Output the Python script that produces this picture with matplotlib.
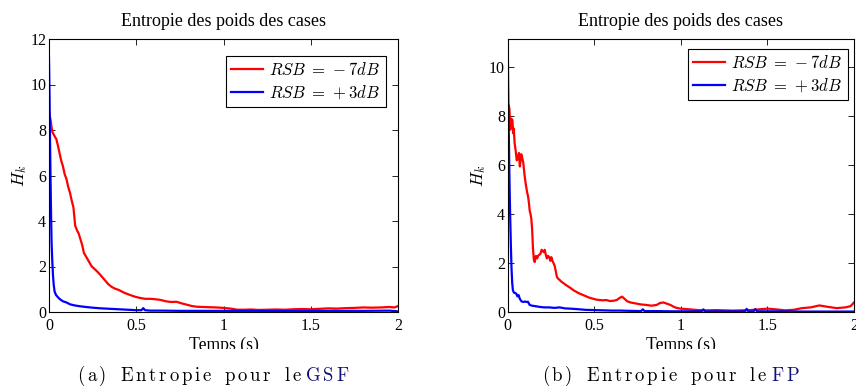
import matplotlib
matplotlib.use('Agg')
import matplotlib.pyplot as plt
from matplotlib.patches import Rectangle
from matplotlib.text import Annotation

# ---- data (time in s, entropy H_k) ----
gsf_t_red = [0, 0.005, 0.01, 0.015, 0.02, 0.027, 0.034, 0.042, 0.05, 0.06,
             0.07, 0.08, 0.09, 0.1, 0.11, 0.12, 0.13, 0.14, 0.15, 0.16,
             0.17, 0.18, 0.19, 0.2, 0.215, 0.23, 0.245, 0.26, 0.28, 0.3,
             0.32, 0.34, 0.36, 0.38, 0.4, 0.43, 0.46, 0.49, 0.52, 0.55,
             0.58, 0.61, 0.64, 0.67, 0.7, 0.73, 0.76, 0.79, 0.82, 0.85,
             0.88, 0.92, 0.96, 1.0, 1.04, 1.08, 1.12, 1.16, 1.2, 1.25,
             1.3, 1.35, 1.4, 1.45, 1.5, 1.55, 1.6, 1.65, 1.7, 1.75,
             1.8, 1.85, 1.9, 1.95, 1.98, 2.0]
gsf_h_red = [8.8, 8.6, 8.4, 8.1, 7.9, 7.8, 7.7, 7.6, 7.35, 7.0,
             6.65, 6.4, 6.05, 5.85, 5.5, 5.25, 4.9, 4.6, 3.8, 3.6,
             3.45, 3.2, 2.95, 2.6, 2.4, 2.2, 2.0, 1.9, 1.75, 1.58,
             1.4, 1.22, 1.1, 1.02, 0.97, 0.85, 0.76, 0.68, 0.62, 0.58,
             0.58, 0.56, 0.53, 0.47, 0.44, 0.45, 0.38, 0.32, 0.26, 0.23,
             0.22, 0.21, 0.2, 0.18, 0.15, 0.1, 0.1, 0.11, 0.09, 0.1,
             0.11, 0.1, 0.12, 0.13, 0.12, 0.14, 0.16, 0.15, 0.17, 0.18,
             0.2, 0.19, 0.2, 0.22, 0.2, 0.26]

gsf_t_blue = [0, 0.003, 0.006, 0.009, 0.012, 0.015, 0.019, 0.023, 0.027, 0.032,
              0.04, 0.05, 0.06, 0.07, 0.08, 0.1, 0.12, 0.14, 0.17, 0.2,
              0.25, 0.3, 0.35, 0.4, 0.45, 0.5, 0.53, 0.54, 0.55, 0.58,
              0.65, 0.75, 0.85, 1.0, 1.2, 1.4, 1.6, 1.8, 1.95, 2.0]
gsf_h_blue = [11.15, 9.5, 7.5, 5.8, 4.2, 3.0, 2.2, 1.6, 1.2, 0.9,
              0.75, 0.66, 0.58, 0.52, 0.47, 0.42, 0.34, 0.3, 0.26, 0.23,
              0.19, 0.16, 0.14, 0.12, 0.1, 0.08, 0.08, 0.17, 0.08, 0.06,
              0.06, 0.05, 0.05, 0.05, 0.05, 0.04, 0.05, 0.05, 0.06, 0.03]

fp_t_red = [0, 0.005, 0.01, 0.015, 0.02, 0.027, 0.032, 0.035, 0.04, 0.046,
            0.052, 0.059, 0.065, 0.07, 0.073, 0.078, 0.084, 0.09, 0.098, 0.105,
            0.112, 0.117, 0.122, 0.127, 0.132, 0.136, 0.141, 0.146, 0.151, 0.156,
            0.163, 0.17, 0.175, 0.183, 0.19, 0.196, 0.203, 0.209, 0.214, 0.22,
            0.226, 0.233, 0.24, 0.246, 0.252, 0.258, 0.265, 0.271, 0.277, 0.284,
            0.29, 0.3, 0.31, 0.32, 0.335, 0.35, 0.365, 0.38, 0.395, 0.41,
            0.43, 0.45, 0.47, 0.49, 0.51, 0.53, 0.55, 0.57, 0.59, 0.61,
            0.63, 0.645, 0.66, 0.675, 0.69, 0.71, 0.74, 0.77, 0.8, 0.83,
            0.86, 0.88, 0.9, 0.92, 0.94, 0.96, 0.98, 1.0, 1.05, 1.1,
            1.15, 1.2, 1.25, 1.3, 1.35, 1.4, 1.45, 1.5, 1.55, 1.6,
            1.65, 1.7, 1.75, 1.8, 1.85, 1.9, 1.95, 1.98, 2.0]
fp_h_red = [8.2, 8.45, 8.3, 7.45, 7.9, 7.85, 7.3, 7.5, 6.9, 6.6,
            6.2, 6.3, 6.5, 5.95, 6.1, 6.45, 6.3, 6.1, 5.55, 5.2,
            4.9, 4.75, 4.5, 4.15, 4.0, 3.85, 3.4, 2.6, 2.15, 2.05,
            2.3, 2.2, 2.3, 2.35, 2.4, 2.55, 2.5, 2.45, 2.55, 2.35,
            2.2, 2.3, 2.25, 2.1, 2.25, 2.1, 2.0, 1.9, 1.7, 1.45,
            1.38, 1.32, 1.25, 1.2, 1.12, 1.05, 0.98, 0.9, 0.84, 0.78,
            0.72, 0.66, 0.6, 0.56, 0.52, 0.5, 0.49, 0.5, 0.46, 0.47,
            0.5, 0.58, 0.64, 0.55, 0.45, 0.4, 0.36, 0.32, 0.3, 0.27,
            0.3, 0.38, 0.4, 0.35, 0.3, 0.22, 0.17, 0.15, 0.12, 0.09,
            0.08, 0.09, 0.08, 0.07, 0.08, 0.09, 0.12, 0.15, 0.12, 0.08,
            0.1, 0.17, 0.2, 0.28, 0.22, 0.17, 0.2, 0.25, 0.4]

fp_t_blue = [0, 0.003, 0.006, 0.01, 0.014, 0.018, 0.022, 0.026, 0.03, 0.036,
             0.046, 0.05, 0.056, 0.063, 0.07, 0.079, 0.09, 0.1, 0.11, 0.117,
             0.127, 0.14, 0.16, 0.185, 0.21, 0.24, 0.27, 0.3, 0.33, 0.36,
             0.4, 0.45, 0.5, 0.55, 0.6, 0.65, 0.7, 0.77, 0.78, 0.79,
             0.85, 0.95, 1.05, 1.12, 1.13, 1.14, 1.25, 1.37, 1.38, 1.39,
             1.42, 1.43, 1.44, 1.55, 1.7, 1.85, 2.0]
fp_h_blue = [11.15, 9.0, 7.5, 5.5, 4.0, 2.8, 1.8, 1.2, 0.9, 0.8,
             0.78, 0.75, 0.65, 0.7, 0.55, 0.45, 0.42, 0.44, 0.42, 0.43,
             0.3, 0.27, 0.25, 0.22, 0.2, 0.2, 0.18, 0.2, 0.16, 0.15,
             0.13, 0.1, 0.09, 0.08, 0.07, 0.07, 0.06, 0.05, 0.12, 0.05,
             0.05, 0.04, 0.04, 0.04, 0.12, 0.04, 0.04, 0.04, 0.14, 0.04,
             0.04, 0.13, 0.04, 0.04, 0.03, 0.03, 0.03]

legend_labels = [r'$RSB\;=\,-7dB$', r'$RSB\;=\,+3dB$']
xticks = [0, 0.5, 1, 1.5, 2]
xticklabels = ['0', '0.5', '1', '1.5', '2']
title = 'Entropie des poids des cases'
xlabel = 'Temps (s)'
caption_words = [['(a)', 'Entropie', 'pour', 'le'], ['(b)', 'Entropie', 'pour', 'le']]
caption_keys = ['GSF', 'FP']

plt.rcParams['font.family'] = 'Liberation Serif'
plt.rcParams['mathtext.fontset'] = 'cm'

W, H = 856, 392
fig = plt.figure(figsize=(W / 100, H / 100), dpi=100)


def add_axes_px(left, right, top, bottom):
    return fig.add_axes([left / W, 1 - bottom / H, (right - left) / W, (bottom - top) / H])


def draw_panel(ax, t_red, h_red, t_blue, h_blue, ymax, yticks, anchor):
    ax.plot(t_red, h_red, color='red', lw=1.6, label=legend_labels[0])
    ax.plot(t_blue, h_blue, color='blue', lw=1.6, label=legend_labels[1])
    ax.set_xlim(0, 2)
    ax.set_ylim(0, ymax)
    ax.set_xticks(xticks)
    ax.set_xticklabels(xticklabels)
    ax.set_yticks(yticks)
    ax.set_yticklabels([str(v) for v in yticks])
    ax.tick_params(direction='in', top=True, right=True, length=4, width=0.6,
                   labelsize=11.5)
    ax.tick_params(axis='x', pad=4)
    ax.tick_params(axis='y', pad=2)
    for s in ax.spines.values():
        s.set_linewidth(0.8)
    ax.set_title(title, fontsize=13, pad=9.5)
    ax.set_xlabel(xlabel, fontsize=12.7, labelpad=2)
    ax.set_ylabel(r'$H_k$', fontsize=12.5, labelpad=1)
    leg = ax.legend(loc='upper right', bbox_to_anchor=anchor, borderaxespad=0,
                    fancybox=False, framealpha=1, edgecolor='black', fontsize=12,
                    handlelength=1.9, handletextpad=0.35, borderpad=0.35,
                    labelspacing=0.3)
    leg.get_frame().set_linewidth(0.8)


ax1 = add_axes_px(49, 398, 39, 312)
draw_panel(ax1, gsf_t_red, gsf_h_red, gsf_t_blue, gsf_h_blue, 12,
           [0, 2, 4, 6, 8, 10, 12], (0.9656, 0.9377))

ax2 = add_axes_px(507.7, 854, 39, 312.3)
draw_panel(ax2, fp_t_red, fp_h_red, fp_t_blue, fp_h_blue, 11.15,
           [0, 2, 4, 6, 8, 10], (0.9827, 0.9634))

# the sub-figures are cropped just under the x label
fig.add_artist(Rectangle((0, 0), 1, (H - 349) / H, transform=fig.transFigure,
                         facecolor='white', edgecolor='none', zorder=5))


def tracked_caption(x_px, base_px, words, key, size=13.5, track=2.0, space=10.0,
                    key_gap=4.0):
    # letter-spaced caption, one glyph at a time on a common baseline
    yb = (H - base_px) / H
    prev = None
    items = [(w, 'black', space) for w in words] + [(key, '#10107a', key_gap)]
    for word, color, gap in items:
        for ci, ch in enumerate(word):
            if prev is None:
                prev = fig.add_artist(Annotation(
                    ch, xy=(x_px / W, yb), xycoords='figure fraction',
                    va='baseline', ha='left', family='cmr10', fontsize=size,
                    color=color, zorder=6))
                continue
            off = gap if ci == 0 else track
            prev = fig.add_artist(Annotation(
                ch, xy=(1, yb), xycoords=(prev, 'figure fraction'),
                xytext=(off, 0), textcoords='offset points',
                va='baseline', ha='left', family='cmr10', fontsize=size,
                color=color, zorder=6))


tracked_caption(77, 381, caption_words[0], caption_keys[0])
tracked_caption(541.7, 381, caption_words[1], caption_keys[1])

fig.savefig('out.png', dpi=100)
